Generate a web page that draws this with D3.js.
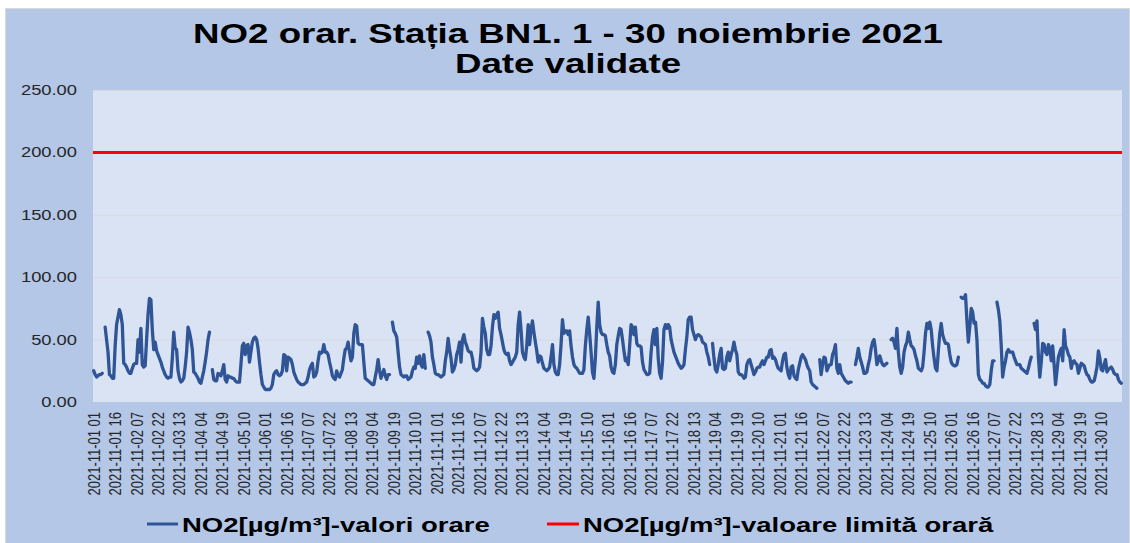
<!DOCTYPE html>
<html>
<head>
<meta charset="utf-8">
<script src="https://cdn.jsdelivr.net/npm/d3@7"></script>
<style>
  body { margin: 0; background: #ffffff; }
  svg text { font-family: "Liberation Sans", Arial, sans-serif; }
</style>
</head>
<body>
<div id="chart"></div>
<script>
// hourly NO2, station BN1, 1 - 30 Nov 2021 (one row per day, hours 01..24), null = no data
var no2Hourly = [
  25,22,20,21,22,22,23,null,60,50,40,22,21,19,19,45,62,68,74,70,62,31,30,28,
  25,23,23,27,30,31,31,50,40,59,30,28,29,50,70,83,82,58,42,48,41,38,35,32,
  28,25,22,20,19,20,20,35,56,43,42,25,19,16,17,19,28,40,60,56,50,42,24,23,
  21,19,16,15,20,25,32,40,50,56,null,26,18,17,17,23,22,21,25,30,18,16,21,20,
  20,19,19,17,16,16,16,30,45,47,38,45,46,32,40,48,51,52,50,43,32,22,14,12,
  10,10,10,10,11,14,22,24,25,22,21,22,25,38,37,25,36,35,34,30,24,21,18,16,
  15,14,14,14,15,16,20,26,29,31,20,21,24,33,40,39,40,46,40,40,38,32,27,21,
  19,18,25,21,20,23,26,35,42,43,48,40,33,36,55,62,61,47,46,46,46,32,19,18,
  17,16,15,14,14,20,26,34,25,19,23,26,21,18,22,22,null,64,57,55,52,40,28,22,
  21,20,21,21,18,19,20,25,28,27,36,31,37,30,28,38,27,null,56,53,48,36,30,23,
  22,22,21,20,21,22,33,40,51,42,35,24,26,30,38,42,48,32,50,54,48,45,41,40,
  40,35,27,26,25,26,28,40,67,60,55,42,38,38,45,60,70,67,70,72,59,54,48,42,
  39,38,39,33,30,32,34,36,40,62,72,58,40,36,34,45,62,46,58,65,56,48,41,32,
  37,36,31,27,26,25,26,28,36,46,30,24,22,22,30,46,66,55,57,57,54,57,45,36,
  30,28,27,25,23,23,23,26,45,58,68,55,40,24,19,35,60,80,62,56,54,54,53,46,
  40,37,28,24,23,30,46,53,59,58,50,41,33,35,30,45,62,60,54,60,47,45,45,44,
  32,26,24,22,22,23,40,52,58,46,59,35,23,19,32,58,62,59,62,60,50,45,40,37,
  34,31,29,27,28,30,42,52,66,68,68,58,54,50,53,54,53,52,48,47,46,40,36,30,
  null,47,35,26,24,30,38,43,27,26,27,36,40,33,38,42,48,42,38,24,22,22,21,19,
  20,30,33,34,30,26,22,24,27,28,28,31,33,30,33,36,36,41,42,35,36,34,30,27,
  26,25,33,38,39,28,22,19,28,29,21,19,18,26,31,36,38,36,34,30,27,25,16,14,
  13,12,11,null,34,22,30,36,35,25,28,30,30,38,41,46,27,23,30,23,21,19,17,16,
  15,16,16,null,null,30,36,43,36,32,28,23,23,24,30,35,43,48,50,42,30,33,37,33,
  30,29,30,31,null,null,50,51,48,43,59,40,28,23,28,40,45,48,56,50,45,44,42,37,
  33,27,26,25,28,40,55,63,59,64,58,45,35,27,25,41,55,63,54,50,47,47,46,38,
  32,30,29,29,30,36,null,84,83,83,86,65,48,60,75,72,63,64,50,22,18,17,15,15,
  13,12,12,14,25,33,33,null,80,74,65,45,20,28,33,40,42,40,40,40,36,33,30,30,
  30,27,26,25,24,23,27,32,36,null,63,58,65,36,20,32,47,46,40,38,46,43,33,45,
  30,14,25,36,40,43,33,58,45,42,38,36,27,32,33,31,30,23,27,31,30,29,25,22,
  21,18,16,16,17,22,28,41,35,26,25,30,34,24,26,27,28,26,23,22,22,18,16,15
];
var limitValue = 200;

var days = d3.range(1, 31).map(function(d) { return "2021-11-" + (d < 10 ? "0" + d : d); });
var hours = d3.range(1, 25).map(function(h) { return h < 10 ? "0" + h : "" + h; });
var yTicks = [0, 50, 100, 150, 200, 250];
var labelStep = 15;

var titleLines = ["NO2 orar. Stația BN1. 1 - 30 noiembrie 2021", "Date validate"];
var seriesNames = ["NO2[µg/m³]-valori orare", "NO2[µg/m³]-valoare limită orară"];

var width = 1130,
    height = 543,
    stretch = 1.31;   // the original picture is wider than its fonts

var categories = [];
days.forEach(function(d) {
    hours.forEach(function(h) { categories.push(d + " " + h); });
});
var rows = categories.map(function(c, i) { return { cat: c, v: no2Hourly[i] }; });

var svg = d3.select("#chart").append("svg")
    .attr("width", width)
    .attr("height", height);

svg.append("rect")
    .attr("x", 5.5).attr("y", 8.5)
    .attr("width", width - 6).attr("height", height - 8)
    .style("fill", "#b4c7e7")
    .style("stroke", "#d9d9d9");

var plot = { left: 93, right: 1122, top: 90, bottom: 402 };

var x = d3.scaleBand()
    .domain(categories)
    .range([plot.left, plot.right]);

var y = d3.scaleLinear()
    .domain([0, 250])
    .range([plot.bottom, plot.top]);

svg.append("rect")
    .attr("x", plot.left).attr("y", plot.top)
    .attr("width", plot.right - plot.left)
    .attr("height", plot.bottom - plot.top)
    .style("fill", "#dae3f3");

// faint gridlines
svg.append("g")
    .selectAll("line")
    .data(yTicks.slice(1))
    .enter().append("line")
    .attr("x1", plot.left).attr("x2", plot.right)
    .attr("y1", function(d) { return y(d) + 0.5; })
    .attr("y2", function(d) { return y(d) + 0.5; })
    .style("stroke", "#d8d8e4")
    .style("stroke-width", 1);

// y axis
var yAxis = svg.append("g")
    .attr("transform", "translate(77,0)")
    .call(d3.axisLeft(y).tickValues(yTicks).tickFormat(d3.format(".2f")).tickSize(0).tickPadding(0));
yAxis.select(".domain").remove();
yAxis.selectAll("text")
    .attr("transform", "scale(" + stretch + ",1)")
    .style("font-size", "14px")
    .style("fill", "#262626");

// x axis
var xAxis = svg.append("g")
    .attr("transform", "translate(0," + plot.bottom + ")")
    .call(d3.axisBottom(x)
        .tickValues(categories.filter(function(c, i) { return i % labelStep === 0; }))
        .tickSize(0));
xAxis.select(".domain").remove();
xAxis.selectAll("text")
    .attr("x", 0).attr("y", 0).attr("dy", "0.35em")
    .attr("transform", "translate(0,10) scale(" + stretch + ",1) rotate(-90)")
    .style("text-anchor", "end")
    .style("font-size", "13px")
    .style("fill", "#262626");

// limit line
svg.append("line")
    .attr("x1", plot.left).attr("x2", plot.right)
    .attr("y1", y(limitValue)).attr("y2", y(limitValue))
    .style("stroke", "#ff0000")
    .style("stroke-width", 3);

// hourly series
var line = d3.line()
    .defined(function(d) { return d.v != null; })
    .x(function(d) { return x(d.cat) + x.bandwidth() / 2; })
    .y(function(d) { return y(d.v); });

svg.append("path")
    .datum(rows)
    .attr("d", line)
    .style("fill", "none")
    .style("stroke", "#2f5597")
    .style("stroke-width", 3.3)
    .style("stroke-linejoin", "round")
    .style("stroke-linecap", "round");

// title
svg.append("g").selectAll("text")
    .data(titleLines)
    .enter().append("text")
    .attr("transform", function(d, i) { return "translate(568," + (43 + i * 30) + ") scale(" + stretch + ",1)"; })
    .style("text-anchor", "middle")
    .style("font-size", "28px")
    .style("font-weight", "bold")
    .style("fill", "#000")
    .text(function(d) { return d; });

// legend
var legendItems = [
    { name: seriesNames[0], color: "#2f5597", x1: 147, x2: 178 },
    { name: seriesNames[1], color: "#ff0000", x1: 547, x2: 579 }
];
var legend = svg.append("g").selectAll("g")
    .data(legendItems)
    .enter().append("g");
legend.append("line")
    .attr("x1", function(d) { return d.x1; })
    .attr("x2", function(d) { return d.x2; })
    .attr("y1", 524).attr("y2", 524)
    .style("stroke", function(d) { return d.color; })
    .style("stroke-width", 3);
legend.append("text")
    .attr("transform", function(d) { return "translate(" + (d.x2 + 4) + ",532) scale(" + stretch + ",1)"; })
    .style("font-size", "21px")
    .style("font-weight", "bold")
    .style("fill", "#000")
    .text(function(d) { return d.name; });
</script>
</body>
</html>
